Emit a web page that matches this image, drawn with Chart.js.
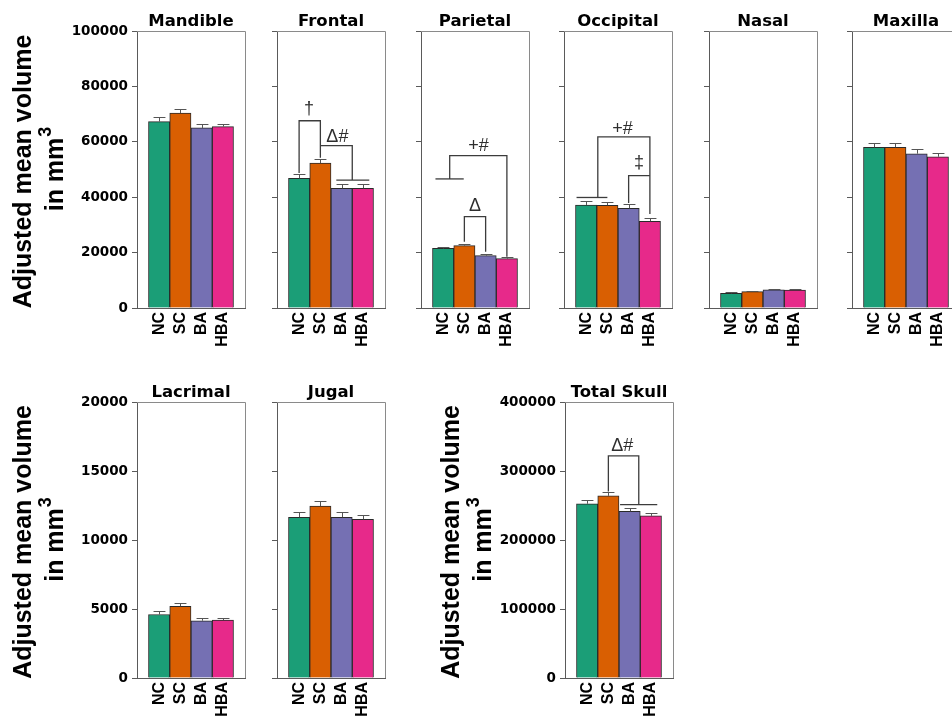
<!DOCTYPE html>
<html>
<head>
<meta charset="utf-8">
<script src="https://cdn.jsdelivr.net/npm/chart.js@4.4.0/dist/chart.umd.min.js"></script>
<style>
  html, body { margin: 0; padding: 0; background: #fff; overflow: hidden; }
  #fig { position: relative; width: 952px; height: 717px; overflow: hidden; background: #fff; }
  #fig canvas { position: absolute; }
</style>
</head>
<body>
<div id="fig"></div>
<script>
// Groups shown in every panel
const groupLabels = ['NC', 'SC', 'BA', 'HBA'];

// Adjusted mean bone volumes (mm³) and their SEM
const mandibleMeans   = [67300, 70400, 65000, 65500];
const mandibleSem     = [1500, 1400, 1600, 1100];
const frontalMeans    = [46800, 52300, 43200, 43200];
const frontalSem      = [1400, 1400, 1600, 1400];
const parietalMeans   = [21500, 22500, 18900, 17800];
const parietalSem     = [700, 700, 600, 500];
const occipitalMeans  = [37200, 37100, 36000, 31300];
const occipitalSem    = [1300, 1300, 1500, 1100];
const nasalMeans      = [5300, 5900, 6600, 6500];
const nasalSem        = [400, 400, 350, 300];
const maxillaMeans    = [58000, 58000, 55700, 54600];
const maxillaSem      = [1600, 1500, 1600, 1200];
const lacrimalMeans   = [4600, 5200, 4150, 4200];
const lacrimalSem     = [250, 230, 230, 150];
const jugalMeans      = [11650, 12450, 11650, 11500];
const jugalSem        = [380, 360, 380, 300];
const totalSkullMeans = [252500, 264000, 241500, 235000];
const totalSkullSem   = [5000, 5000, 5000, 4000];

// Y tick values
const upperTicks = [0, 20000, 40000, 60000, 80000, 100000];
const lowerTicks = [0, 5000, 10000, 15000, 20000];
const skullTicks = [0, 100000, 200000, 300000, 400000];

// Significance brackets: polylines in (group index, mm³) and the symbol at (group index, mm³)
const frontalMarks = [
  { lines: [[[0, 48700], [0, 67600], [1, 67600], [1, 54200]]], symbol: '†', at: [0.47, 72000] },
  { lines: [[[1, 58600], [2.5, 58600], [2.5, 46200]], [[1.75, 46200], [3.3, 46200]]], symbol: 'Δ#', at: [1.8, 61900] }
];
const parietalMarks = [
  { lines: [[[1, 23900], [1, 33000], [2, 33000], [2, 20300]]], symbol: 'Δ', at: [1.5, 36800] },
  { lines: [[[-0.36, 46600], [0.97, 46600]], [[0.31, 46600], [0.31, 55000], [3, 55000], [3, 18500]]], symbol: '+#', at: [1.66, 58300] }
];
const occipitalMarks = [
  { lines: [[[-0.45, 39900], [1, 39900]], [[0.55, 39900], [0.55, 61800], [3, 61800], [3, 33900]]], symbol: '+#', at: [1.71, 64600] },
  { lines: [[[2, 37900], [2, 47800], [3, 47800]]], symbol: '‡', at: [2.49, 52300] }
];
const totalSkullMarks = [
  { lines: [[[1, 270400], [1, 322000], [2.43, 322000], [2.43, 251200]], [[1.55, 251200], [3.3, 251200]]], symbol: 'Δ#', at: [1.65, 335700] }
];

// Styling
const groupColors = ['#1b9e77', '#d95f02', '#7570b3', '#e7298a'];
const AXIS_COLOR = '#5a5a5a';
const FRAME_COLOR = '#8a8a8a';
const WHISKER_COLOR = '#555555';
const BRACKET_COLOR = '#3c3c3c';
const TICK_FONT = { family: '"DejaVu Sans", sans-serif', weight: 'bold', size: 13.5 };
const CAT_FONT = { family: '"Liberation Sans", Arial, sans-serif', weight: 'bold', size: 16 };
const TITLE_FONT = 'bold 16.5px "DejaVu Sans", sans-serif';
const YTITLE_FONT = 'bold 25px "Liberation Sans", Arial, sans-serif';
const SUP_FONT = 'bold 18px "Liberation Sans", Arial, sans-serif';
const MARK_FONT = '18px "Liberation Sans", Arial, sans-serif';

const FRAME_W = 108;     // plot frame width
const TOP_PAD = 31;      // room above the plot for the panel title
const X_AXIS_H = 40;     // room below the plot for the group labels
const X_MIN = -1.04, X_MAX = 4.04;

const panels = [
  { title: 'Mandible',    means: mandibleMeans,   sem: mandibleSem,   ticks: upperTicks, marks: [],              axisX: 137, plotTop: 31,  plotH: 277, yw: 137, labelled: true },
  { title: 'Frontal',     means: frontalMeans,    sem: frontalSem,    ticks: upperTicks, marks: frontalMarks,    axisX: 277, plotTop: 31,  plotH: 277, yw: 8 },
  { title: 'Parietal',    means: parietalMeans,   sem: parietalSem,   ticks: upperTicks, marks: parietalMarks,   axisX: 421, plotTop: 31,  plotH: 277, yw: 8 },
  { title: 'Occipital',   means: occipitalMeans,  sem: occipitalSem,  ticks: upperTicks, marks: occipitalMarks,  axisX: 564, plotTop: 31,  plotH: 277, yw: 8 },
  { title: 'Nasal',       means: nasalMeans,      sem: nasalSem,      ticks: upperTicks, marks: [],              axisX: 709, plotTop: 31,  plotH: 277, yw: 8 },
  { title: 'Maxilla',     means: maxillaMeans,    sem: maxillaSem,    ticks: upperTicks, marks: [],              axisX: 852, plotTop: 31,  plotH: 277, yw: 8 },
  { title: 'Lacrimal',    means: lacrimalMeans,   sem: lacrimalSem,   ticks: lowerTicks, marks: [],              axisX: 137, plotTop: 402, plotH: 276, yw: 137, labelled: true },
  { title: 'Jugal',       means: jugalMeans,      sem: jugalSem,      ticks: lowerTicks, marks: [],              axisX: 277, plotTop: 402, plotH: 276, yw: 8 },
  { title: 'Total Skull', means: totalSkullMeans, sem: totalSkullSem, ticks: skullTicks, marks: totalSkullMarks, axisX: 565, plotTop: 402, plotH: 276, yw: 135, labelled: true }
];

// Frame, whiskers, brackets, titles
function panelDecor(p) {
  return {
    id: 'panelDecor',
    afterDatasetsDraw(chart) {
      const { ctx, chartArea: a, scales: { x, y } } = chart;
      ctx.save();

      // top and right sides of the box
      ctx.strokeStyle = FRAME_COLOR;
      ctx.lineWidth = 1;
      ctx.beginPath();
      ctx.moveTo(a.left, Math.round(a.top) + 0.5);
      ctx.lineTo(Math.round(a.right) + 0.5, Math.round(a.top) + 0.5);
      ctx.lineTo(Math.round(a.right) + 0.5, a.bottom);
      ctx.stroke();

      // SEM whiskers
      const unit = x.getPixelForValue(1) - x.getPixelForValue(0);
      ctx.strokeStyle = WHISKER_COLOR;
      ctx.lineWidth = 1;
      p.means.forEach((m, i) => {
        const cx = Math.round(x.getPixelForValue(i)) + 0.5;
        const y0 = y.getPixelForValue(m);
        const y1 = Math.round(y.getPixelForValue(m + p.sem[i])) + 0.5;
        ctx.beginPath();
        ctx.moveTo(cx, y0);
        ctx.lineTo(cx, y1);
        ctx.moveTo(cx - unit * 0.28, y1);
        ctx.lineTo(cx + unit * 0.28, y1);
        ctx.stroke();
      });

      // significance brackets
      ctx.strokeStyle = BRACKET_COLOR;
      ctx.lineWidth = 1.3;
      p.marks.forEach(mk => {
        mk.lines.forEach(line => {
          ctx.beginPath();
          line.forEach(([gx, gv], k) => {
            const px = x.getPixelForValue(gx), py = y.getPixelForValue(gv);
            if (k === 0) ctx.moveTo(px, py); else ctx.lineTo(px, py);
          });
          ctx.stroke();
        });
        ctx.fillStyle = '#2e2e2e';
        ctx.font = MARK_FONT;
        ctx.textAlign = 'center';
        ctx.textBaseline = 'middle';
        ctx.fillText(mk.symbol, x.getPixelForValue(mk.at[0]), y.getPixelForValue(mk.at[1]));
      });

      // panel title
      ctx.fillStyle = '#000';
      ctx.font = TITLE_FONT;
      ctx.textAlign = 'center';
      ctx.textBaseline = 'alphabetic';
      ctx.fillText(p.title, (a.left + a.right) / 2, a.top - 5);

      // y-axis title
      if (p.labelled) {
        const cy = (a.top + a.bottom) / 2;
        ctx.save();
        ctx.translate(a.left - 106, cy + 2);
        ctx.rotate(-Math.PI / 2);
        ctx.font = YTITLE_FONT;
        ctx.textAlign = 'center';
        ctx.fillText('Adjusted mean volume', 0, 0);
        ctx.restore();

        ctx.save();
        ctx.translate(a.left - 74, cy);
        ctx.rotate(-Math.PI / 2);
        ctx.font = YTITLE_FONT;
        const w1 = ctx.measureText('in mm').width;
        ctx.font = SUP_FONT;
        const w2 = ctx.measureText('3').width;
        const start = -(w1 + w2) / 2;
        ctx.textAlign = 'left';
        ctx.font = YTITLE_FONT;
        ctx.fillText('in mm', start, 0);
        ctx.font = SUP_FONT;
        ctx.fillText('3', start + w1 + 1, -12);
        ctx.restore();
      }
      ctx.restore();
    }
  };
}

const fig = document.getElementById('fig');

function makePanel(p) {
  const canvas = document.createElement('canvas');
  const W = p.yw + FRAME_W + 2;
  const H = TOP_PAD + p.plotH + X_AXIS_H;
  canvas.width = W;
  canvas.height = H;
  canvas.style.left = (p.axisX - p.yw) + 'px';
  canvas.style.top = (p.plotTop - TOP_PAD) + 'px';
  canvas.style.width = W + 'px';
  canvas.style.height = H + 'px';
  fig.appendChild(canvas);

  const yMax = p.ticks[p.ticks.length - 1];

  new Chart(canvas, {
    type: 'bar',
    data: {
      datasets: [{
        data: p.means.map((v, i) => ({ x: i, y: v })),
        backgroundColor: groupColors,
        borderColor: '#2a2a2a',
        borderWidth: 1,
        barPercentage: 1,
        categoryPercentage: 1
      }]
    },
    options: {
      responsive: false,
      animation: false,
      devicePixelRatio: 1,
      events: [],
      layout: { padding: { top: TOP_PAD, right: 2, left: 0, bottom: 0 } },
      plugins: { legend: { display: false }, tooltip: { enabled: false }, title: { display: false } },
      scales: {
        x: {
          type: 'linear',
          offset: false,
          min: X_MIN,
          max: X_MAX,
          grid: { display: false, drawTicks: false },
          border: { display: true, color: AXIS_COLOR, width: 1 },
          ticks: {
            autoSkip: false,
            minRotation: 90,
            maxRotation: 90,
            padding: 4,
            color: '#000',
            font: CAT_FONT,
            callback: v => groupLabels[v] ?? ''
          },
          afterBuildTicks: s => { s.ticks = groupLabels.map((_, i) => ({ value: i })); },
          afterFit: s => { s.height = X_AXIS_H; s.paddingLeft = 0; s.paddingRight = 0; }
        },
        y: {
          type: 'linear',
          min: 0,
          max: yMax,
          grid: { display: true, drawOnChartArea: false, drawTicks: true, tickLength: 5, color: AXIS_COLOR, lineWidth: 1 },
          border: { display: true, color: AXIS_COLOR, width: 1 },
          ticks: {
            padding: 4,
            color: '#000',
            font: TICK_FONT,
            callback: v => (p.labelled ? String(v) : '')
          },
          afterBuildTicks: s => { s.ticks = p.ticks.map(v => ({ value: v })); },
          afterFit: s => { s.width = p.yw; s.paddingTop = 0; s.paddingBottom = 0; }
        }
      }
    },
    plugins: [panelDecor(p)]
  });
}

panels.forEach(makePanel);
</script>
</body>
</html>
